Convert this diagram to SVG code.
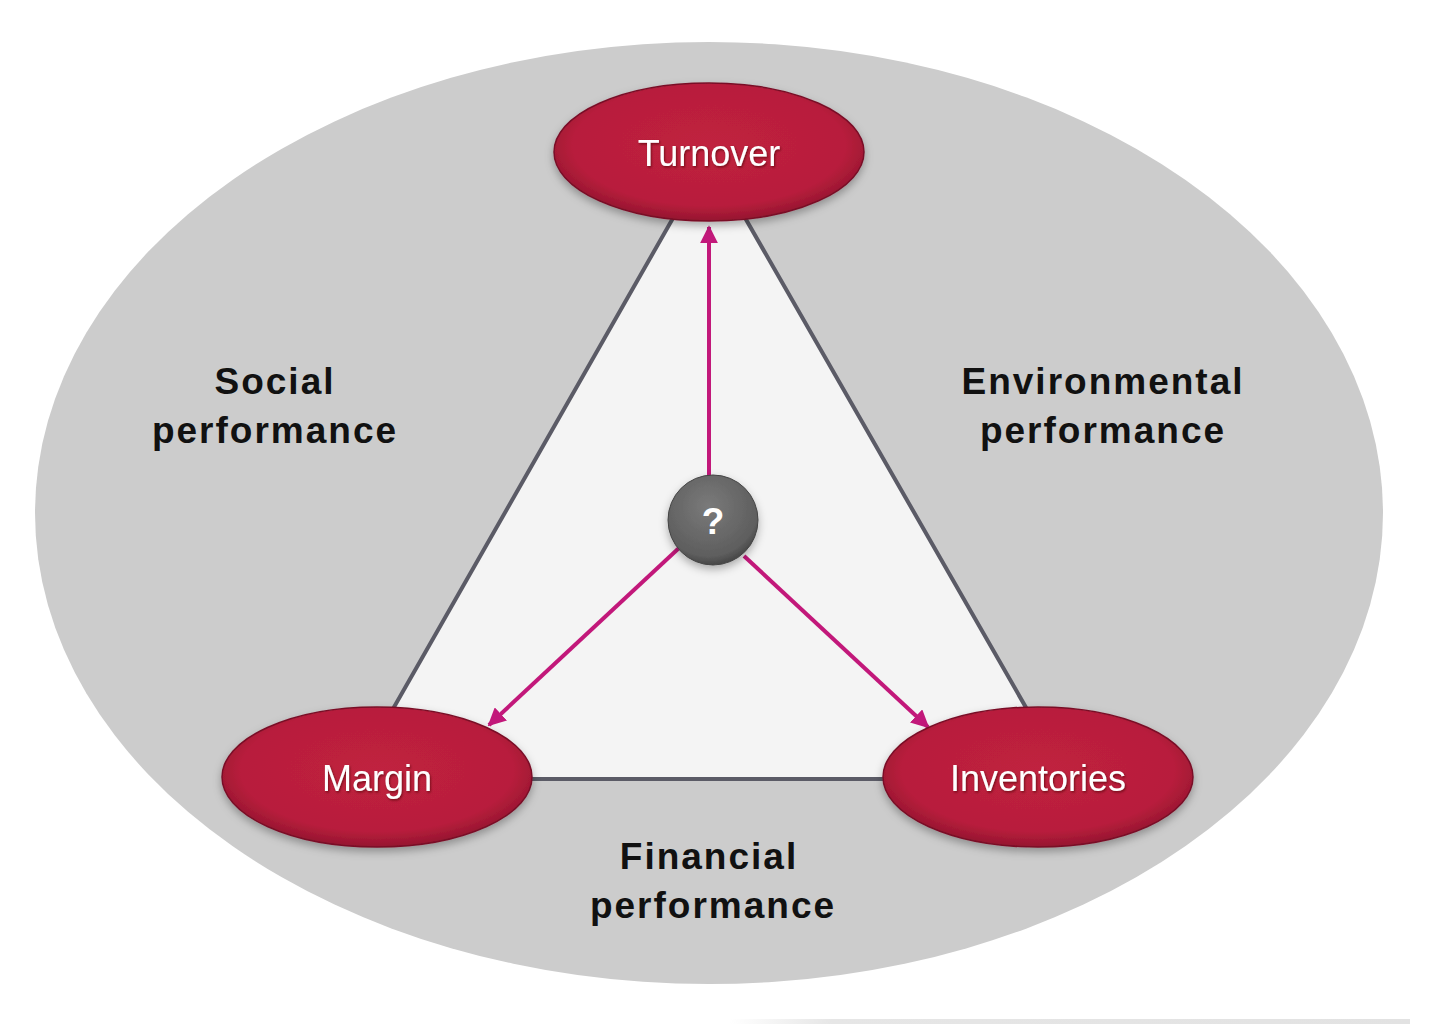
<svg xmlns="http://www.w3.org/2000/svg" width="1440" height="1026" viewBox="0 0 1440 1026">
<defs>
<style>
.label{font-family:"Liberation Sans",Arial,sans-serif;font-weight:bold;font-size:37px;letter-spacing:2px;fill:#111;text-anchor:middle}
.nodetext{font-family:"Liberation Sans",Arial,sans-serif;font-size:36px;fill:#ffffff;text-anchor:middle}
.node{fill:url(#redGrad);stroke:#7a1028;stroke-width:1.5;filter:url(#shadow)}
.edge{stroke:#5b5b66;stroke-width:4;fill:none}
.arrow{stroke:#c2187a;stroke-width:4;fill:none;marker-end:url(#ah)}
</style>
<radialGradient id="redGrad" cx="50%" cy="45%" r="55%">
<stop offset="0" stop-color="#c0213f"/>
<stop offset="0.8" stop-color="#b81e3c"/>
<stop offset="1" stop-color="#951530"/>
</radialGradient>
<radialGradient id="grayGrad" cx="45%" cy="35%" r="65%">
<stop offset="0" stop-color="#7a7a7a"/>
<stop offset="0.85" stop-color="#5e5e5e"/>
<stop offset="1" stop-color="#474747"/>
</radialGradient>
<linearGradient id="fadeLine" x1="0" y1="0" x2="1" y2="0">
<stop offset="0" stop-color="#e6e6e6" stop-opacity="0"/>
<stop offset="0.15" stop-color="#e6e6e6"/>
<stop offset="1" stop-color="#e2e2e2"/>
</linearGradient>
<filter id="shadow" x="-20%" y="-20%" width="140%" height="150%">
<feDropShadow dx="0" dy="4" stdDeviation="4" flood-color="#000" flood-opacity="0.3"/>
</filter>
<filter id="tshadow" x="-10%" y="-20%" width="120%" height="140%">
<feDropShadow dx="1" dy="1.5" stdDeviation="1" flood-color="#400" flood-opacity="0.6"/>
</filter>
<marker id="ah" viewBox="0 0 10 10" refX="9" refY="5" markerWidth="4.5" markerHeight="4.5" orient="auto" markerUnits="strokeWidth">
<path d="M0,0 L10,5 L0,10 Z" fill="#c2187a"/>
</marker>
</defs>
<rect x="0" y="0" width="1440" height="1026" fill="#ffffff"/>
<rect x="730" y="1019" width="680" height="5" fill="url(#fadeLine)"/>
<ellipse id="background" cx="709" cy="513" rx="674" ry="471" fill="#cccccc"/>
<g id="connectors">
<polygon points="709,155 353,779 1067,779" fill="#f4f4f4" stroke="#5b5b66" stroke-width="4" stroke-linejoin="round"/>
<line class="arrow" x1="709" y1="476" x2="709" y2="227"/>
<line class="arrow" x1="679" y1="548" x2="489" y2="725"/>
<line class="arrow" x1="744" y1="556" x2="928" y2="727"/>
</g>
<g id="label-social">
<text class="label" x="275" y="394">Social</text>
<text class="label" x="275" y="443">performance</text>
</g>
<g id="label-environmental">
<text class="label" x="1103" y="394">Environmental</text>
<text class="label" x="1103" y="443">performance</text>
</g>
<g id="label-financial">
<text class="label" x="709" y="869">Financial</text>
<text class="label" x="713" y="918">performance</text>
</g>
<g id="node-turnover">
<ellipse class="node" cx="709" cy="152" rx="155" ry="69"/>
<text class="nodetext" x="709" y="166" filter="url(#tshadow)">Turnover</text>
</g>
<g id="node-margin">
<ellipse class="node" cx="377" cy="777" rx="155" ry="70"/>
<text class="nodetext" x="377" y="791" filter="url(#tshadow)">Margin</text>
</g>
<g id="node-inventories">
<ellipse class="node" cx="1038" cy="777" rx="155" ry="70"/>
<text class="nodetext" x="1038" y="791" filter="url(#tshadow)">Inventories</text>
</g>
<g id="node-question">
<circle cx="713" cy="520" r="45" fill="url(#grayGrad)" stroke="#444" stroke-width="1" filter="url(#shadow)"/>
<text x="713" y="534" font-family="'Liberation Sans',Arial,sans-serif" font-weight="bold" font-size="37" fill="#ffffff" text-anchor="middle">?</text>
</g>
</svg>
